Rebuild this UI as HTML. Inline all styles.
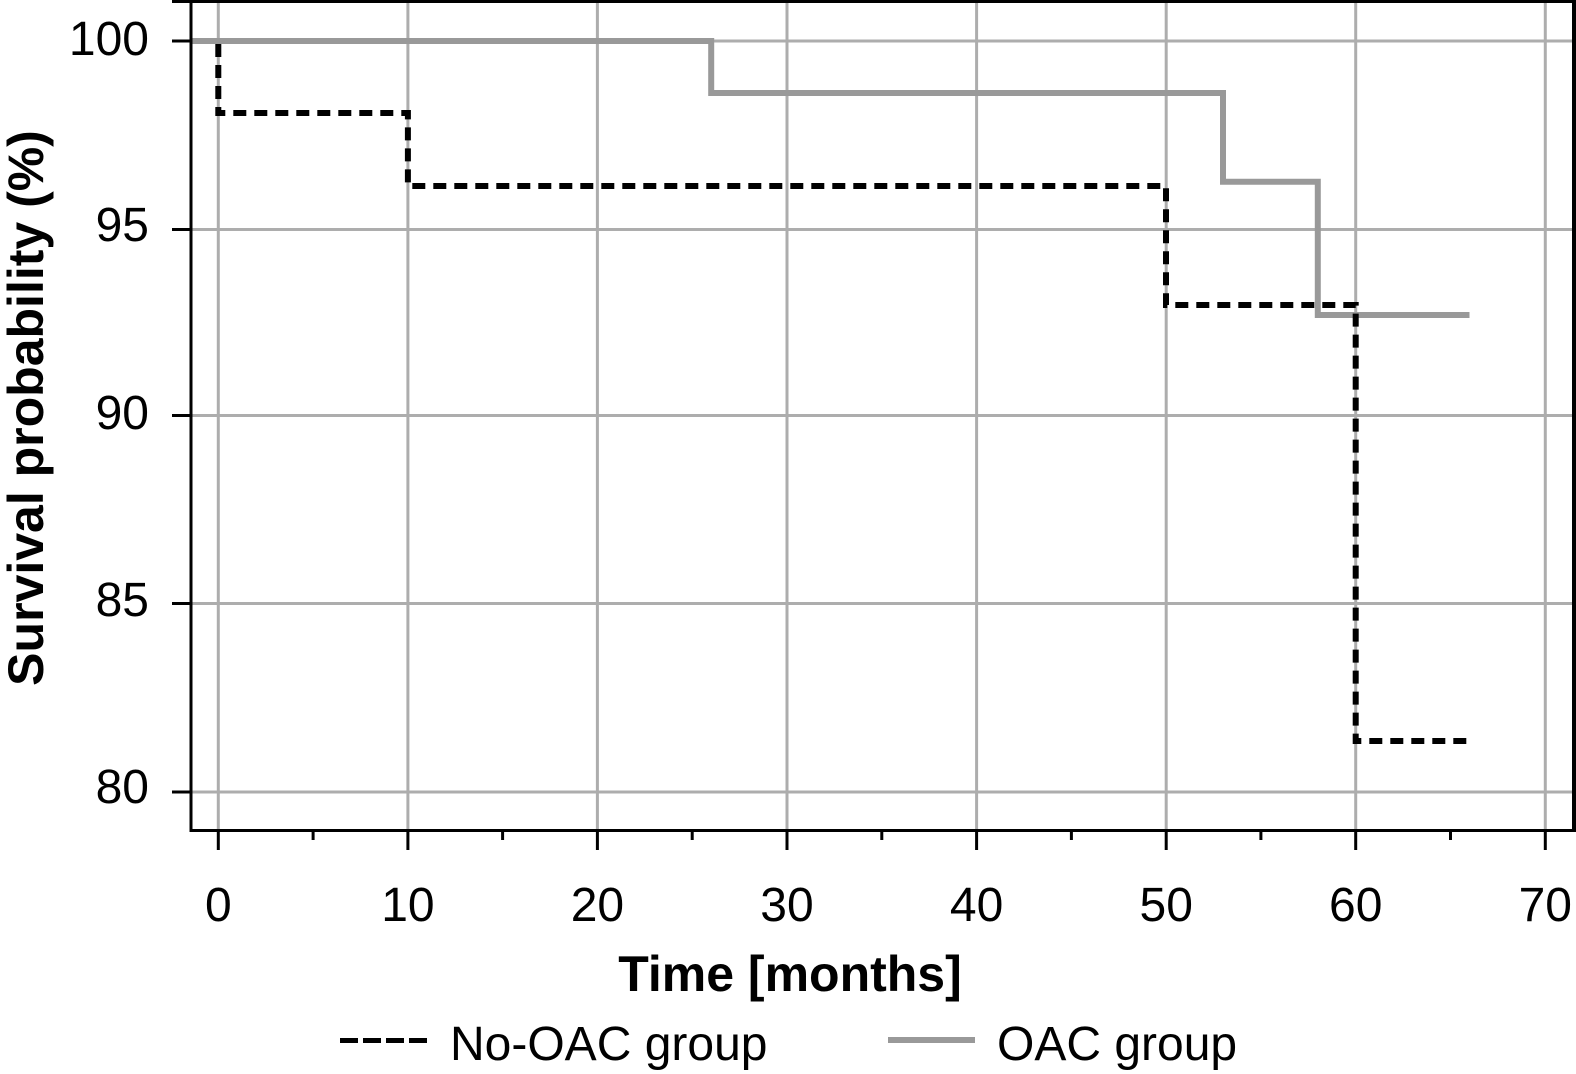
<!DOCTYPE html>
<html>
<head>
<meta charset="utf-8">
<style>
  html, body { margin:0; padding:0; background:#fff; }
  svg { display:block; }
  text { font-family: "Liberation Sans", "DejaVu Sans", sans-serif; fill:#000; }
</style>
</head>
<body>
<svg width="1576" height="1074" viewBox="0 0 1576 1074" xmlns="http://www.w3.org/2000/svg">
  <rect width="1576" height="1074" fill="#fff"/>
  <!-- grid -->
  <g stroke="#adadad" stroke-width="3">
    <line x1="218.3" y1="3" x2="218.3" y2="829"/>
    <line x1="407.9" y1="3" x2="407.9" y2="829"/>
    <line x1="597.4" y1="3" x2="597.4" y2="829"/>
    <line x1="787.0" y1="3" x2="787.0" y2="829"/>
    <line x1="976.6" y1="3" x2="976.6" y2="829"/>
    <line x1="1166.2" y1="3" x2="1166.2" y2="829"/>
    <line x1="1355.7" y1="3" x2="1355.7" y2="829"/>
    <line x1="1545.3" y1="3" x2="1545.3" y2="829"/>
    <line x1="191" y1="41" x2="1572" y2="41"/>
    <line x1="191" y1="229.5" x2="1572" y2="229.5"/>
    <line x1="191" y1="415.5" x2="1572" y2="415.5"/>
    <line x1="191" y1="603.5" x2="1572" y2="603.5"/>
    <line x1="191" y1="792" x2="1572" y2="792"/>
  </g>
  <!-- series -->
  <path d="M191,41 H711.2 V93 H1223 V181.7 H1317.8 V315 H1469.5" fill="none" stroke="#999" stroke-width="6"/>
  <path d="M218.3,44 V113 H407.9 V186 H1166 V305 H1355.7 V741 H1470.7" fill="none" stroke="#000" stroke-width="6" stroke-dasharray="13 8"/>
  <!-- axes / frame -->
  <g stroke="#000" stroke-width="3">
    <line x1="172" y1="1.5" x2="1576" y2="1.5"/>
    <line x1="191" y1="0" x2="191" y2="832"/>
    <line x1="189.5" y1="830.5" x2="1576" y2="830.5"/>
    <line x1="1574" y1="0" x2="1574" y2="832" stroke-width="4"/>
    <!-- y ticks -->
    <line x1="172" y1="41" x2="191" y2="41"/>
    <line x1="172" y1="229.5" x2="191" y2="229.5"/>
    <line x1="172" y1="415.5" x2="191" y2="415.5"/>
    <line x1="172" y1="603.5" x2="191" y2="603.5"/>
    <line x1="172" y1="792" x2="191" y2="792"/>
    <!-- x major ticks -->
    <line x1="218.3" y1="831" x2="218.3" y2="850"/>
    <line x1="407.9" y1="831" x2="407.9" y2="850"/>
    <line x1="597.4" y1="831" x2="597.4" y2="850"/>
    <line x1="787.0" y1="831" x2="787.0" y2="850"/>
    <line x1="976.6" y1="831" x2="976.6" y2="850"/>
    <line x1="1166.2" y1="831" x2="1166.2" y2="850"/>
    <line x1="1355.7" y1="831" x2="1355.7" y2="850"/>
    <line x1="1545.3" y1="831" x2="1545.3" y2="850"/>
    <!-- x minor ticks -->
    <line x1="313.1" y1="831" x2="313.1" y2="840"/>
    <line x1="502.6" y1="831" x2="502.6" y2="840"/>
    <line x1="692.2" y1="831" x2="692.2" y2="840"/>
    <line x1="881.8" y1="831" x2="881.8" y2="840"/>
    <line x1="1071.4" y1="831" x2="1071.4" y2="840"/>
    <line x1="1260.9" y1="831" x2="1260.9" y2="840"/>
    <line x1="1450.5" y1="831" x2="1450.5" y2="840"/>
  </g>
  <!-- y tick labels -->
  <g font-size="48" text-anchor="end">
    <text x="149" y="55">100</text>
    <text x="149" y="241">95</text>
    <text x="149" y="429">90</text>
    <text x="149" y="616">85</text>
    <text x="149" y="803">80</text>
  </g>
  <!-- x tick labels -->
  <g font-size="48" text-anchor="middle">
    <text x="218.3" y="921">0</text>
    <text x="407.9" y="921">10</text>
    <text x="597.4" y="921">20</text>
    <text x="787.0" y="921">30</text>
    <text x="976.6" y="921">40</text>
    <text x="1166.2" y="921">50</text>
    <text x="1355.7" y="921">60</text>
    <text x="1545.3" y="921">70</text>
  </g>
  <!-- axis titles -->
  <text x="790" y="991" font-size="50" font-weight="bold" text-anchor="middle">Time [months]</text>
  <text transform="translate(43,408) rotate(-90)" font-size="50" font-weight="bold" text-anchor="middle">Survival probability (%)</text>
  <!-- legend -->
  <line x1="340" y1="1040.5" x2="428" y2="1040.5" stroke="#000" stroke-width="5" stroke-dasharray="18 5"/>
  <text x="450" y="1060" font-size="48">No-OAC group</text>
  <line x1="888" y1="1040" x2="975" y2="1040" stroke="#999" stroke-width="6"/>
  <text x="997" y="1060" font-size="48">OAC group</text>
</svg>
</body>
</html>
